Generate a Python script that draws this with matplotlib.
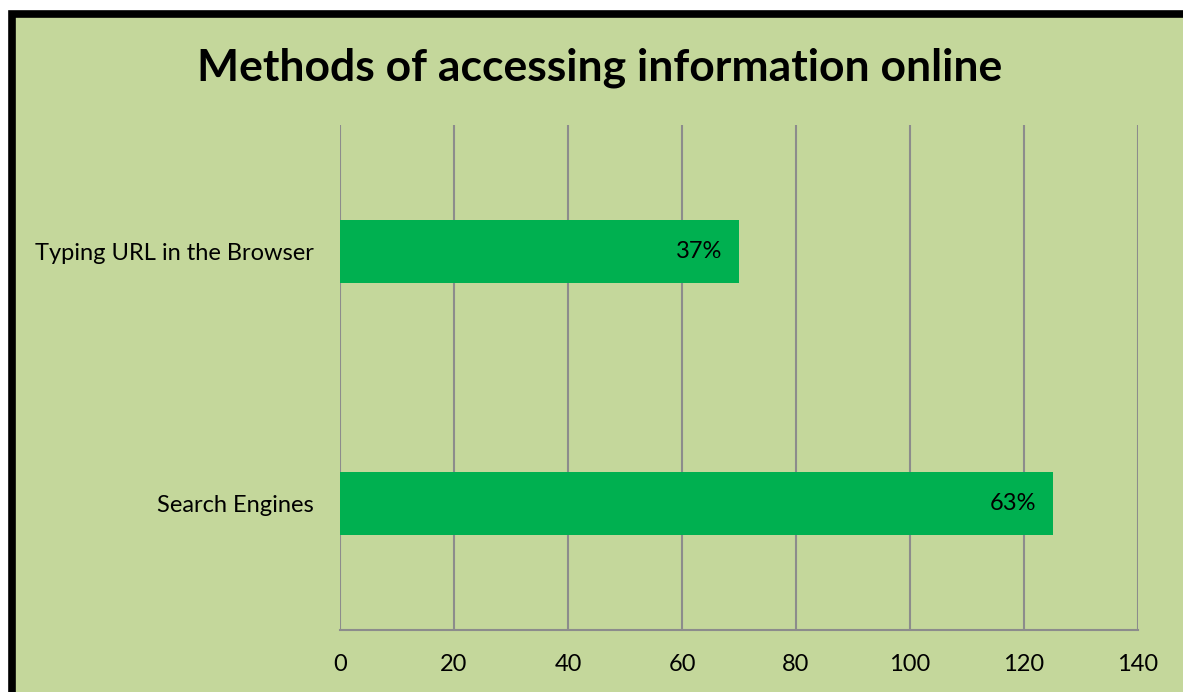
import matplotlib
matplotlib.use("Agg")
import matplotlib.pyplot as plt
from matplotlib.patches import Rectangle

# data
categories = ["Search Engines", "Typing URL in the Browser"]
values = [125, 70]
shares = ["63%", "37%"]
x_ticks = [0, 20, 40, 60, 80, 100, 120, 140]

BG = "#C4D79B"
BAR = "#00B050"
GRID = "#8C8C8C"
plt.rcParams['font.family'] = ['Lato', 'DejaVu Sans']

W, H = 1183, 692
fig = plt.figure(figsize=(W / 100, H / 100), dpi=100, facecolor="white")

# green chart area with thick black frame (cut off at right/bottom)
fig.patches.append(Rectangle((12 / W, -0.2), 1.3, 1.2 - 13.5 / H,
                             transform=fig.transFigure, facecolor=BG,
                             edgecolor="black", linewidth=5.5, zorder=-5))

ax = fig.add_axes([340 / W, 1 - 630 / H, (1138 - 340) / W, (630 - 125) / H])
ax.set_facecolor("none")
ax.set_zorder(2)

ypos = list(range(len(categories)))
bars = ax.barh(ypos, values, height=0.25, color=BAR, zorder=3)
for b, s in zip(bars, shares):
    ax.annotate(s, (b.get_width(), b.get_y() + b.get_height() / 2),
                xytext=(-12, 0), textcoords="offset points",
                ha="right", va="center", fontsize=17, color="black", zorder=4)

ax.set_xlim(0, 140)
ax.set_ylim(-0.5, 1.5)
ax.set_xticks(x_ticks)
ax.set_yticks(ypos)
ax.set_yticklabels(categories)
ax.xaxis.grid(True, color=GRID, linewidth=1.5, zorder=1)
ax.set_axisbelow(True)
ax.tick_params(axis="both", length=0, labelsize=17)
ax.tick_params(axis="x", pad=17)
ax.tick_params(axis="y", pad=19)
for side in ["top", "left", "right"]:
    ax.spines[side].set_visible(False)
ax.spines["bottom"].set_color(GRID)
ax.spines["bottom"].set_linewidth(1.5)

fig.text(600 / W, 1 - 68 / H, "Methods of accessing information online",
         ha="center", va="center", fontsize=32, fontweight="bold")

fig.savefig("out.png", dpi=100, facecolor="white")
